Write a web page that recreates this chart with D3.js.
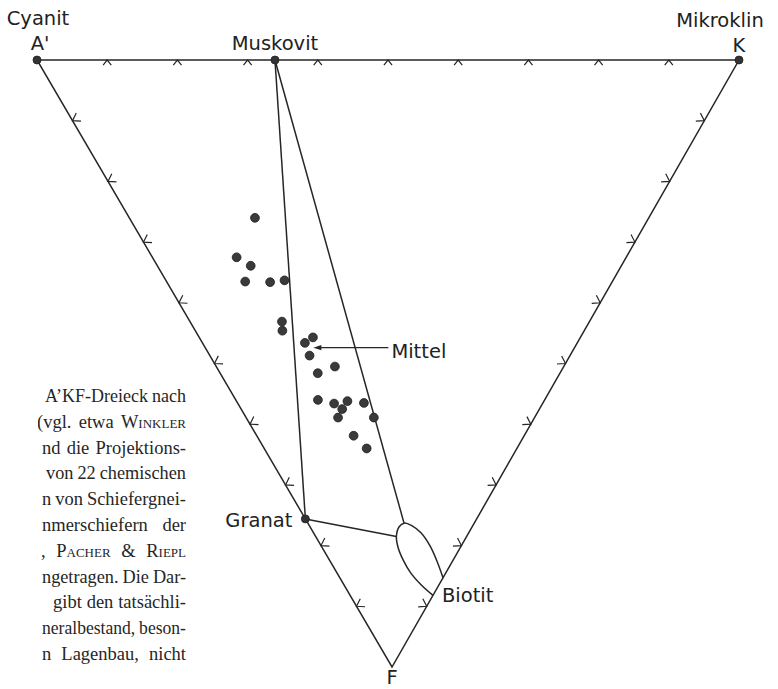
<!DOCTYPE html>
<html>
<head>
<meta charset="utf-8">
<script src="https://cdn.jsdelivr.net/npm/d3@7"></script>
<style>
  html, body { margin: 0; padding: 0; background: #fff; }
  svg { display: block; }
</style>
</head>
<body>
<svg id="chart" width="778" height="689"></svg>
<script>
// ---- Data: compositions in percent, [A', K, F] with A' = 100 - K - F ----
const tickSteps = [10, 20, 30, 40, 50, 60, 70, 80, 90];

// 22 chemical analyses of schist gneisses and mica schists
const sampleK = [17.9, 12.0, 13.3, 11.2, 14.7, 16.9, 13.1, 12.4, 14.6, 16.2, 14.2,
                 13.9, 16.9, 11.7, 13.7, 15.8, 14.4, 13.1, 18.0, 18.2, 13.8, 14.6];
const sampleF = [26.0, 32.5, 33.9, 36.5, 36.6, 36.3, 43.1, 44.6, 46.6, 45.7, 48.7,
                 51.6, 50.5, 56.0, 56.6, 56.2, 57.5, 58.9, 56.5, 58.9, 61.9, 64.0];

// mean composition
const mittelKF = [15.4, 47.4];

// mineral compositions [K, F]
const muskovitKF = [33.9, 0];
const granatKF = [0, 75.6];
// biotite field: outline from the K–F edge round to the K–F edge again
const biotitK = [14.7, 15.2, 15.5, 15.3, 14.6, 13.7, 12.7, 11.5, 10.8, 10.5, 10.5, 11.0, 11.8];
const biotitF = [85.3, 82.7, 80.1, 77.9, 76.7, 76.3, 76.9, 78.5, 80.4, 82.4, 84.5, 86.5, 88.2];
const biotitTopIndex = 5;   // tie line from muscovite
const biotitLeftIndex = 7;  // tie line from garnet

const cornerKF = { A: [0, 0], K: [100, 0], F: [0, 100] };

// explanatory text beside the diagram
const captionLines = [
  [["A’KF-Dreieck"], ["nach"]],
  [["(vgl."], ["etwa"], ["Winkler", true]],
  [["nd"], ["die"], ["Projektions-"]],
  [["von"], ["22"], ["chemischen"]],
  [["n"], ["von"], ["Schiefergnei-"]],
  [["nmerschiefern"], ["der"]],
  [[","], ["Pacher", true], ["&", true], ["Riepl", true]],
  [["ngetragen."], ["Die"], ["Dar-"]],
  [["gibt"], ["den"], ["tatsächli-"]],
  [["neralbestand,"], ["beson-"]],
  [["n"], ["Lagenbau,"], ["nicht"]]
];
const captionStart = [45, 37, 42, 46, 42, 42, 41, 42, 53, 42, 42];

// ---- Scales: ternary projection ----
const yOfF = d3.scaleLinear().domain([0, 100]).range([60, 667]);
const xOfK = d3.scaleLinear().domain([0, 100]).range([37, 739]);
const xShiftOfF = d3.scaleLinear().domain([0, 100]).range([0, 355]);
const project = ([k, f]) => [xOfK(k) + xShiftOfF(f), yOfF(f)];

const svg = d3.select("#chart");
const ink = "#262626";
const sans = "'DejaVu Sans', Verdana, sans-serif";

const pA = project(cornerKF.A), pK = project(cornerKF.K), pF = project(cornerKF.F);

// ---- Triangle ----
svg.append("path")
  .attr("d", d3.line()([pA, pK, pF]) + "Z")
  .attr("fill", "none").attr("stroke", ink).attr("stroke-width", 1.5)
  .attr("stroke-linejoin", "miter");

// ---- Edge ticks: chevrons opening towards the inside ----
const centroid = [(pA[0] + pK[0] + pF[0]) / 3, (pA[1] + pK[1] + pF[1]) / 3];
function chevron(p, p0, p1, len, half) {
  const dx = p1[0] - p0[0], dy = p1[1] - p0[1];
  const L = Math.hypot(dx, dy);
  let nx = -dy / L, ny = dx / L;
  if ((centroid[0] - p[0]) * nx + (centroid[1] - p[1]) * ny < 0) { nx = -nx; ny = -ny; }
  const ang = Math.atan2(ny, nx);
  const a1 = ang + half, a2 = ang - half;
  return d3.line()([
    [p[0] + len * Math.cos(a1), p[1] + len * Math.sin(a1)],
    p,
    [p[0] + len * Math.cos(a2), p[1] + len * Math.sin(a2)]
  ]);
}
const tickG = svg.append("g").attr("fill", "none").attr("stroke", ink).attr("stroke-width", 1.2);
tickSteps.forEach(t => {
  tickG.append("path").attr("d", chevron(project([t, 0]), pA, pK, 6.5, 0.68));
  tickG.append("path").attr("d", chevron(project([0, t]), pA, pF, 8.5, 0.58));
  tickG.append("path").attr("d", chevron(project([100 - t, t]), pK, pF, 8.5, 0.58));
});

// ---- Tie lines ----
const pMus = project(muskovitKF), pGra = project(granatKF);
const biotitPts = biotitK.map((k, i) => project([k, biotitF[i]]));
const tieG = svg.append("g").attr("stroke", ink).attr("stroke-width", 1.5).attr("fill", "none");
tieG.append("path").attr("d", d3.line()([pMus, pGra]));
tieG.append("path").attr("d", d3.line()([pMus, biotitPts[biotitTopIndex]]));
tieG.append("path").attr("d", d3.line()([pGra, biotitPts[biotitLeftIndex]]));

// ---- Biotite field ----
svg.append("path")
  .attr("d", d3.line().curve(d3.curveCatmullRom.alpha(0.5))(biotitPts))
  .attr("fill", "none").attr("stroke", ink).attr("stroke-width", 1.5);

// ---- Sample points ----
svg.append("g").selectAll("circle")
  .data(sampleK.map((k, i) => project([k, sampleF[i]])))
  .join("circle")
  .attr("cx", d => d[0]).attr("cy", d => d[1]).attr("r", 4.4)
  .attr("fill", "#3a3a3a").attr("stroke", "#1e1e1e").attr("stroke-width", 0.8);

// ---- Mineral / corner dots ----
svg.append("g").selectAll("circle")
  .data([pA, pMus, pK, pGra])
  .join("circle")
  .attr("cx", d => d[0]).attr("cy", d => d[1]).attr("r", 4)
  .attr("fill", "#333").attr("stroke", "#1e1e1e").attr("stroke-width", 0.8);

// ---- Labels ----
const labels = [
  { text: "Cyanit", p: pA, dx: 1, dy: -35, anchor: "middle" },
  { text: "A'", p: pA, dx: 3, dy: -10, anchor: "middle" },
  { text: "Muskovit", p: pMus, dx: 0, dy: -10, anchor: "middle" },
  { text: "Mikroklin", p: pK, dx: -19, dy: -33, anchor: "middle" },
  { text: "K", p: pK, dx: 0, dy: -8, anchor: "middle" },
  { text: "Granat", p: pGra, dx: -13, dy: 8, anchor: "end" },
  { text: "Biotit", p: biotitPts[biotitPts.length - 1], dx: 9, dy: 7, anchor: "start" },
  { text: "F", p: pF, dx: 0, dy: 17, anchor: "middle" }
];
svg.append("g").selectAll("text")
  .data(labels)
  .join("text")
  .attr("x", d => d.p[0] + d.dx).attr("y", d => d.p[1] + d.dy)
  .attr("text-anchor", d => d.anchor)
  .attr("font-family", sans).attr("font-size", 19.5).attr("fill", "#222")
  .text(d => d.text);

// ---- Mean arrow ----
const pMit = project(mittelKF);
svg.append("line")
  .attr("x1", pMit[0] + 5).attr("y1", pMit[1])
  .attr("x2", pMit[0] + 75).attr("y2", pMit[1])
  .attr("stroke", ink).attr("stroke-width", 1.3);
svg.append("path")
  .attr("d", d3.line()([[pMit[0], pMit[1]], [pMit[0] + 8, pMit[1] - 2.6], [pMit[0] + 8, pMit[1] + 2.6]]) + "Z")
  .attr("fill", ink);
svg.append("text")
  .attr("x", pMit[0] + 78).attr("y", pMit[1] + 10)
  .attr("font-family", sans).attr("font-size", 19.5).attr("fill", "#222")
  .text("Mittel");

// ---- Caption block (justified, cut at the left margin) ----
const capRight = 186, capTop = 402, capLead = 25.8;
svg.append("clipPath").attr("id", "capClip")
  .append("rect").attr("x", 38).attr("y", 370).attr("width", 160).attr("height", 310);
const capG = svg.append("g").attr("clip-path", "url(#capClip)")
  .attr("font-family", "'Liberation Serif', 'Times New Roman', serif")
  .attr("font-size", 18.5).attr("fill", "#262626");
captionLines.forEach((words, i) => {
  const y = capTop + i * capLead;
  const lineG = capG.append("g");
  const nodes = words.map(([w, sc]) => {
    const t = lineG.append("text").attr("y", y).text(w);
    if (sc) t.style("font-variant", "small-caps");
    return t;
  });
  const widths = nodes.map(n => n.node().getComputedTextLength());
  const total = d3.sum(widths);
  const avail = capRight - captionStart[i];
  let gap = nodes.length > 1 ? (avail - total) / (nodes.length - 1) : 0;
  let scale = 1;
  if (nodes.length > 1 && gap < 4) {
    gap = 4;
    scale = avail / (total + gap * (nodes.length - 1));
  }
  let x = 0;
  nodes.forEach((n, j) => {
    n.attr("x", x);
    x += widths[j] + gap;
  });
  lineG.attr("transform", `translate(${captionStart[i]},0) scale(${scale},1)`);
});
</script>
</body>
</html>
